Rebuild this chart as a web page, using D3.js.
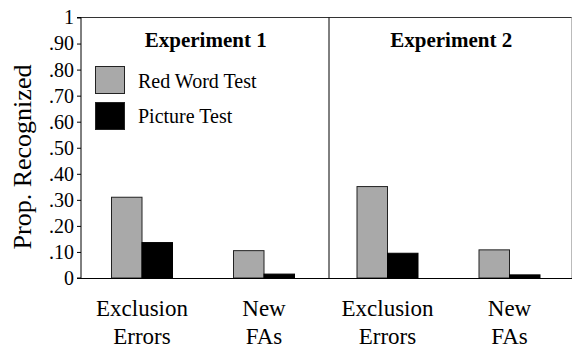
<!DOCTYPE html>
<html><head><meta charset="utf-8">
<script src="https://cdn.jsdelivr.net/npm/d3@7"></script>
<style>
body { margin: 0; background: #fff; }
svg { display: block; }
svg text { font-family: "Liberation Serif", serif !important; }
</style>
</head><body><svg id="c" width="575" height="348"></svg>
<script>
const experiments = ["Experiment 1", "Experiment 2"];
const categories = ["Exclusion Errors", "New FAs"];
const seriesNames = ["Red Word Test", "Picture Test"];
const seriesColors = ["#a9a9a9", "#000000"];
// values[experiment][category]
const redWordTest = [[0.31, 0.105], [0.351, 0.108]];
const pictureTest = [[0.136, 0.015], [0.095, 0.012]];
const yTicks = [0, 0.1, 0.2, 0.3, 0.4, 0.5, 0.6, 0.7, 0.8, 0.9, 1];
const yTickLabels = ["0", ".10", ".20", ".30", ".40", ".50", ".60", ".70", ".80", ".90", "1"];

const svg = d3.select("#c");
const y = d3.scaleLinear().domain([0, 1]).range([278, 17.5]);
const panelX = d3.scaleBand().domain(experiments).range([81, 572]).padding(0);
const x0 = d3.scaleBand().domain(categories).range([0, 244]).paddingInner(0.5).paddingOuter(0.25);
const x1 = d3.scaleBand().domain(seriesNames).range([0, x0.bandwidth()]);
const seriesVals = [redWordTest, pictureTest];

function serif(sel) { return sel.attr("font-family", "Liberation Serif").style("font-family", '"Liberation Serif"', "important").attr("fill", "#000"); }

// frame
svg.append("line").attr("x1", 81).attr("x2", 572).attr("y1", y(1)).attr("y2", y(1)).attr("stroke", "#333").attr("stroke-width", 1);
svg.append("line").attr("x1", 571.5).attr("x2", 571.5).attr("y1", y(1)).attr("y2", y(0)).attr("stroke", "#bbb").attr("stroke-width", 1);
svg.append("line").attr("x1", 329).attr("x2", 329).attr("y1", y(1)).attr("y2", y(0)).attr("stroke", "#000").attr("stroke-width", 1);

// y axis
const yAxis = d3.axisLeft(y).tickValues(yTicks).tickFormat((d, i) => yTickLabels[i]).tickSize(4).tickPadding(3);
const ya = svg.append("g").attr("transform", "translate(81,0)").call(yAxis);
ya.attr("font-family", "Liberation Serif").attr("font-size", 20);
ya.select(".domain").attr("stroke", "#000").attr("d", `M-4,${y(1)}H0V${y(0)}H-4`);
ya.selectAll(".tick line").attr("stroke", "#000");
serif(ya.selectAll(".tick text").attr("font-size", 20));

serif(svg.append("text").attr("transform", `translate(31,157) rotate(-90)`).attr("text-anchor", "middle")
  .attr("font-size", 26)).text("Prop. Recognized");

experiments.forEach((exp, ei) => {
  const px = panelX(exp);
  const g = svg.append("g").attr("transform", `translate(${px},0)`);
  serif(g.append("text").attr("x", panelX.bandwidth() / 2 + 2).attr("y", 47).attr("text-anchor", "middle")
    .attr("font-size", 21).attr("font-weight", "bold")).text(exp);
  seriesNames.forEach((s, si) => {
    categories.forEach((c, ci) => {
      const v = seriesVals[si][ei][ci];
      g.append("rect").attr("x", x0(c) + x1(s)).attr("y", y(v)).attr("width", x1.bandwidth()).attr("height", y(0) - y(v))
        .attr("fill", seriesColors[si]).attr("stroke", si === 0 ? "#222" : "#000").attr("stroke-width", 1);
    });
  });
  categories.forEach((c) => {
    const words = c.split(" ");
    words.forEach((w, wi) => serif(g.append("text").attr("text-anchor", "middle").attr("font-size", 23)
      .attr("x", x0(c) + x0.bandwidth() / 2).attr("y", 316 + wi * 28)).text(w));
  });
});

// baseline
svg.append("line").attr("x1", 81).attr("x2", 572).attr("y1", y(0) + 0.5).attr("y2", y(0) + 0.5).attr("stroke", "#000").attr("stroke-width", 1.2);

// legend
const lg = svg.append("g");
seriesNames.forEach((s, i) => {
  lg.append("rect").attr("x", 95.5).attr("y", 66.5 + i * 36).attr("width", 29).attr("height", 27)
    .attr("fill", seriesColors[i]).attr("stroke", "#222");
  serif(lg.append("text").attr("x", 138).attr("y", 88 + i * 34.5).attr("font-size", 20)).text(s);
});
</script></body></html>
